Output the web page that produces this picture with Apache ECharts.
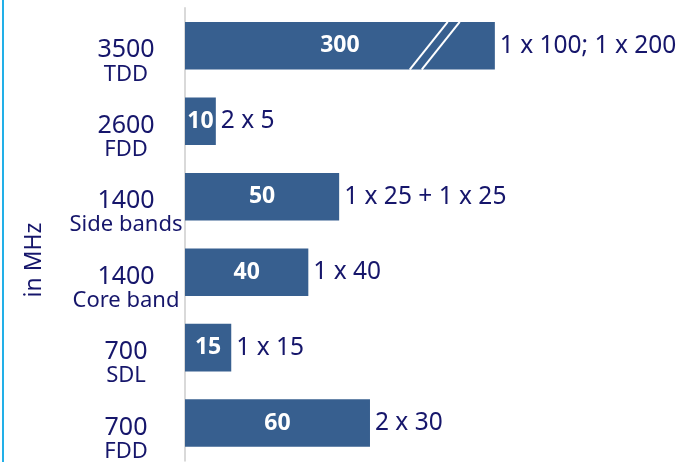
<!DOCTYPE html>
<html>
<head>
<meta charset="utf-8">
<style>
  html, body { margin: 0; padding: 0; background: #ffffff; }
  #chart { width: 685px; height: 462px; }
</style>
<script src="https://cdn.jsdelivr.net/npm/echarts@6/dist/echarts.min.js"></script>
</head>
<body>
<div id="chart"></div>
<script>
// ---- data ----
const bands = ['3500', '2600', '1400', '1400', '700', '700'];
const modes = ['TDD', 'FDD', 'Side bands', 'Core band', 'SDL', 'FDD'];
const totals = [300, 10, 50, 40, 15, 60];
const splits = ['1 x 100; 1 x 200', '2 x 5', '1 x 25 + 1 x 25', '1 x 40', '1 x 15', '2 x 30'];
const axisTitle = 'in MHz';

// broken-axis settings (values between BREAK_FROM and BREAK_TO are skipped)
const BREAK_FROM = 100;
const BREAK_TO = 300;
const BREAK_MARK_AT = 81;

const NAVY = '#16166b';
const BAR = '#375f8f';
const FONT = '"Noto Sans", sans-serif';

const shown = totals.map(v => v >= BREAK_TO ? v - (BREAK_TO - BREAK_FROM) + 0.5 : v);
const cats = bands.map((b, i) => b + '\n' + modes[i]);

const chart = echarts.init(document.getElementById('chart'), null, { renderer: 'canvas' });

chart.setOption({
  animation: false,
  backgroundColor: '#ffffff',
  textStyle: { fontFamily: FONT },
  grid: { left: 185, top: 8, width: 493.3, height: 460, containLabel: false },
  xAxis: {
    type: 'value', min: 0, max: 160,
    show: false,
    splitLine: { show: false }
  },
  yAxis: {
    type: 'category',
    inverse: true,
    data: cats,
    axisLine: { show: true, lineStyle: { color: '#d9d9d9', width: 2 } },
    axisTick: { show: false },
    axisLabel: {
      margin: 59,
      align: 'center',
      padding: [32, 0, 0, 0],
      formatter: (v) => {
        const p = v.split('\n');
        return '{a|' + p[0] + '}\n{b|' + p[1] + '}';
      },
      rich: {
        a: { fontSize: 25, lineHeight: 25, color: NAVY, fontFamily: FONT, align: 'center' },
        b: { fontSize: 22, lineHeight: 23, color: NAVY, fontFamily: FONT, align: 'center' }
      }
    }
  },
  series: [
    {
      type: 'bar',
      data: shown,
      barWidth: '63%',
      itemStyle: { color: BAR },
      z: 2
    },
    {
      type: 'bar',
      data: shown,
      barWidth: '63%',
      barGap: '-100%',
      itemStyle: { color: 'rgba(0,0,0,0)' },
      label: {
        show: true,
        position: 'inside',
        color: '#ffffff',
        fontWeight: 'bold',
        fontSize: 23,
        fontFamily: FONT,
        formatter: (p) => String(totals[p.dataIndex])
      },
      z: 3
    },
    {
      type: 'bar',
      data: shown,
      barWidth: '63%',
      barGap: '-100%',
      itemStyle: { color: 'rgba(0,0,0,0)' },
      label: {
        show: true,
        position: 'right',
        distance: 5,
        color: NAVY,
        fontSize: 24.5,
        fontFamily: FONT,
        formatter: (p) => splits[p.dataIndex]
      },
      z: 3
    },
    {
      type: 'custom',
      data: totals.map((v, i) => [v, i]),
      z: 4,
      renderItem: (params, api) => {
        const v = api.value(0);
        if (v < BREAK_TO) return null;
        const c = api.coord([BREAK_MARK_AT, api.value(1)]);
        const h = api.size([0, 1])[1] * 0.63;
        const dx = h * 0.4;
        const lines = [-6, 6].map(off => ({
          type: 'line',
          shape: { x1: c[0] + off - dx, y1: c[1] + h / 2, x2: c[0] + off + dx, y2: c[1] - h / 2 },
          style: { stroke: '#ffffff', lineWidth: 2 }
        }));
        return { type: 'group', children: lines };
      }
    }
  ],
  graphic: [
    {
      type: 'rect',
      shape: { x: 2, y: 0, width: 2, height: 462 },
      style: { fill: '#22b0e8' }
    },
    {
      type: 'text',
      x: 34, y: 260,
      rotation: Math.PI / 2,
      style: {
        text: axisTitle,
        fill: NAVY,
        font: '23px "Noto Sans", sans-serif',
        align: 'center',
        verticalAlign: 'middle'
      }
    }
  ]
});
</script>
</body>
</html>
